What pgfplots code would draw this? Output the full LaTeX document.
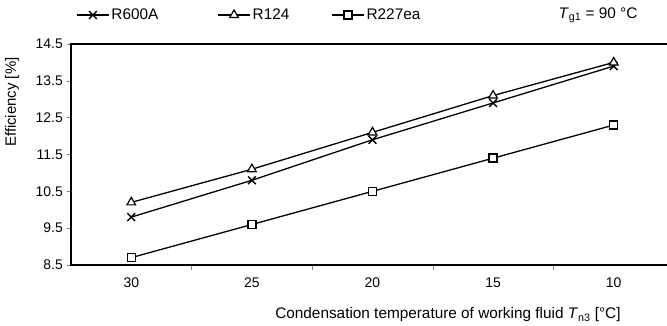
\documentclass[border=0pt]{standalone}
\usepackage{pgfplots}
\pgfplotsset{compat=1.18}
\usepackage{fontspec}
\setmainfont{Liberation Sans}
\begin{document}
\fontsize{15}{18}\selectfont
\begin{tikzpicture}[x=1bp,y=1bp]
\begin{axis}[
  at={(71bp,61bp)}, anchor=south west,
  scale only axis, width=603bp, height=221bp,
  xmin=-0.5, xmax=4.5, ymin=8.5, ymax=14.5,
  xtick={0,1,2,3,4}, xticklabels={30,25,20,15,10},
  major x tick style={draw=none},
  minor xtick={0.5,1.5,2.5,3.5},
  minor x tick style={gray, line width=0.6bp},
  ytick={8.5,9.5,10.5,11.5,12.5,13.5,14.5},
  yticklabels={8.5,9.5,10.5,11.5,12.5,13.5,14.5},
  ytick pos=left, xtick pos=bottom,
  tick align=outside,
  major tick length=4bp, minor tick length=5bp,
  major y tick style={gray, line width=0.6bp},
  axis line style={line width=1.3bp, black},
  /pgf/number format/assume math mode=true,
  tick label style={font=\fontsize{14}{17}\selectfont},
  xticklabel style={yshift=-4bp},
  yticklabel style={xshift=1bp},
  ylabel={Efficiency [\%]},
  ylabel style={at={(axis description cs:-0.098,0.737)}, anchor=center, font=\fontsize{15}{18}\selectfont},
  xlabel={Condensation temperature of working fluid \textit{T}\textsubscript{n3} [°C]},
  xlabel style={at={(axis description cs:0.920,-0.225)}, anchor=east, font=\fontsize{15.4}{18}\selectfont},
  legend columns=3,
  legend style={draw=none, fill=none, at={(0,1)}, anchor=west, xshift=2bp, yshift=29bp,
    font=\fontsize{15.4}{18}\selectfont,
    /tikz/column 2/.style={column sep=57bp},
    /tikz/column 4/.style={column sep=40bp}},
  legend image code/.code={\draw[mark repeat=2,mark phase=2] plot coordinates {(0bp,0bp) (16bp,0bp) (32bp,0bp)};},
  every axis plot/.append style={line width=1.3bp, black},
]
\addplot[mark=x, mark size=5.5bp, mark options={line width=1.4bp}] coordinates {(0,9.8) (1,10.8) (2,11.9) (3,12.9) (4,13.9)};
\addlegendentry{R600A}
\addplot[mark=triangle*, mark size=5bp, mark options={fill=white, line width=1.2bp}] coordinates {(0,10.2) (1,11.1) (2,12.1) (3,13.1) (4,14.0)};
\addlegendentry{R124}
\addplot[mark=square*, mark size=4bp, mark options={fill=white, line width=1.4bp}] coordinates {(0,8.7) (1,9.6) (2,10.5) (3,11.4) (4,12.3)};
\addlegendentry{R227ea}
\end{axis}
\node at (598bp,311bp) {\fontsize{15.4}{18}\selectfont\textit{T}\textsubscript{g1} = 90 °C};
\pgfresetboundingbox
\useasboundingbox (0,0) rectangle (667bp,326bp);
\end{tikzpicture}
\end{document}
